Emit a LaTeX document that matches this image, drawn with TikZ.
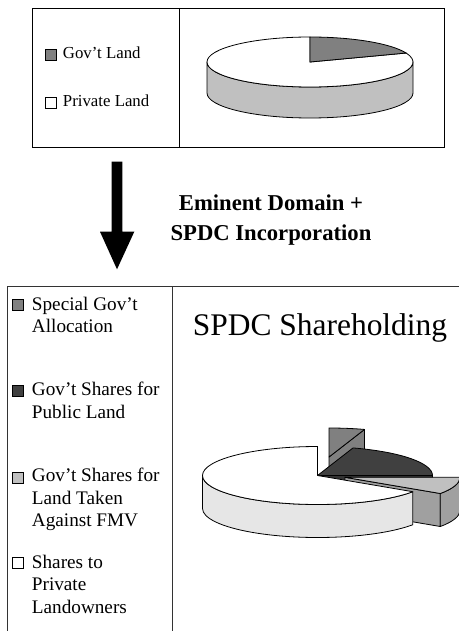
\documentclass[tikz,border=0pt]{standalone}
\usepackage{fontspec}
\setmainfont{Liberation Serif}

\definecolor{slicegray}{HTML}{808080}
\definecolor{darkslice}{HTML}{404040}
\definecolor{lightslice}{HTML}{C0C0C0}
\definecolor{lightrim}{HTML}{E6E6E6}
\definecolor{midrim}{HTML}{A0A0A0}

\tikzset{
  legbox/.style={draw, line width=0.6pt, inner sep=0pt, minimum size=8.2pt},
  toptext/.style={anchor=base west, inner sep=0pt, font=\fontsize{12.6}{15}\selectfont},
  legtext/.style={anchor=base west, inner sep=0pt, font=\fontsize{14.4}{17}\selectfont},
  piepart/.style={draw=black, line width=0.6pt, line join=round},
}

\begin{document}
\begin{tikzpicture}[x=0.75pt,y=0.75pt]
  \useasboundingbox (0,0) rectangle (459,-631);
  \clip (0,0) rectangle (459,-631);

  % land before
  \draw[line width=0.7pt] (32,-8) rectangle (444,-147);
  \draw[line width=0.7pt] (179,-8) -- (179,-147);
  \node[legbox, fill=slicegray] (govkey) at (51.3,-55.3) {};
  \node[legbox, fill=white] (privkey) at (51.3,-103.3) {};
  \node[toptext] (govlabel) at (62.7,-58.3) {Gov't Land};
  \node[toptext] (privlabel) at (62.7,-106.7) {Private Land};

  \begin{scope}[shift={(310,-62)}, x radius=103, y radius=25]
    \fill[piepart, fill=lightslice] (180:103 and 25) arc[start angle=180, end angle=360]
      -- ++(0,-31) arc[start angle=360, end angle=180] -- cycle;
    \fill[piepart, fill=white] (0,0) -- (90:103 and 25) arc[start angle=90, end angle=381] -- cycle;
    \fill[piepart, fill=slicegray] (0,0) -- (21:103 and 25) arc[start angle=21, end angle=90] -- cycle;
  \end{scope}

  % block arrow
  \fill (111.7,-161.7) -- (122.3,-161.7) -- (122.3,-231.7) -- (134.3,-231.7)
    -- (117,-269.3) -- (100,-231.7) -- (111.7,-231.7) -- cycle;
  \node[anchor=base, inner sep=0pt, font=\fontsize{17}{20}\selectfont\bfseries] (step1) at (271,-210) {Eminent Domain +};
  \node[anchor=base, inner sep=0pt, font=\fontsize{17}{20}\selectfont\bfseries] (step2) at (271,-240) {SPDC Incorporation};

  % shareholding after
  \draw[line width=0.7pt, black!80] (7.3,-640) -- (7.3,-286) -- (470,-286);
  \draw[line width=0.7pt, black!80] (172,-286) -- (172,-640);
  \node[anchor=base, inner sep=0pt, font=\fontsize{23.6}{28}\selectfont] (title) at (320,-335) {SPDC Shareholding};

  \foreach \y/\c [count=\i] in {305/slicegray, 391/darkslice, 477.7/lightslice, 563/white}
    \node[legbox, fill=\c] (key\i) at (18.3,-\y) {};
  \foreach \y/\t [count=\i] in {310/Special Gov't, 332.7/Allocation,
      395/Gov't Shares for, 418/Public Land,
      481.7/Gov't Shares for, 504.3/Land Taken, 526.7/Against FMV,
      568/Shares to, 590.7/Private, 613.3/Landowners}
    \node[legtext] (line\i) at (31.7,-\y) {\t};

  \begin{scope}[shift={(317.5,-475.5)}, x radius=115, y radius=29]
    % special allocation, pulled back
    \begin{scope}[shift={(11.5,18.5)}]
      \fill[piepart, fill=slicegray] (0,0) -- (72:115 and 29) -- ++(0,-33) -- (0,-33) -- cycle;
      \fill[piepart, fill=slicegray] (0,0) -- (72:115 and 29) arc[start angle=72, end angle=90] -- cycle;
    \end{scope}
    % public land
    \fill[piepart, fill=darkslice!80!black] (0,0) -- (115,0) -- (115,-33) -- (0,-33) -- cycle;
    \fill[piepart, fill=darkslice] (0,0) -- (0:115 and 29) arc[start angle=0, end angle=72] -- cycle;
    % land taken against fmv, pulled right
    \begin{scope}[shift={(27.5,-1.8)}]
      \fill[piepart, fill=midrim] (0,0) -- (-34:115 and 29) -- ++(0,-33) -- (0,-33) -- cycle;
      \fill[piepart, fill=midrim] (-34:115 and 29) arc[start angle=-34, end angle=0]
        -- ++(0,-33) arc[start angle=0, end angle=-34] -- cycle;
      \fill[piepart, fill=lightslice] (0,0) -- (-34:115 and 29) arc[start angle=-34, end angle=0] -- cycle;
    \end{scope}
    % private landowners
    \fill[piepart, fill=lightrim] (180:115 and 29) arc[start angle=180, end angle=326]
      -- ++(0,-33) arc[start angle=326, end angle=180] -- cycle;
    \fill[piepart, fill=white] (0,0) -- (90:115 and 29) arc[start angle=90, end angle=326] -- cycle;
  \end{scope}
\end{tikzpicture}
\end{document}
